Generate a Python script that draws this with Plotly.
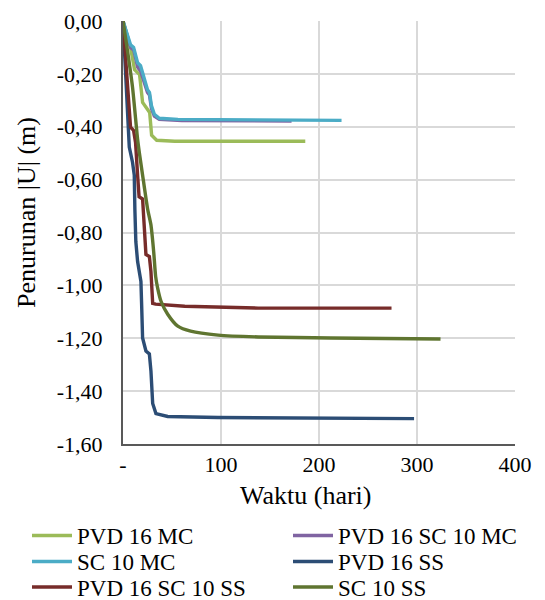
import plotly.graph_objects as go

# ---- data (days, settlement in m) ----
names = ["PVD 16 MC", "PVD 16 SC 10 MC", "SC 10 MC", "PVD 16 SS", "PVD 16 SC 10 SS", "SC 10 SS"]
colors = ["#9BBB59", "#8064A2", "#4BACC6", "#2C4D75", "#772C2A", "#5F7530"]

pvd16_mc_x = [0, 7.7, 11.8, 16.9, 20, 25.1, 27.2, 29.2, 34.4, 52.8, 186]
pvd16_mc_y = [0, -0.10, -0.184, -0.203, -0.308, -0.335, -0.346, -0.432, -0.451, -0.455, -0.455]

pvd16_sc10_mc_x = [0, 7.7, 11, 15, 18, 25, 27, 29, 32, 37, 60, 172]
pvd16_sc10_mc_y = [0, -0.10, -0.11, -0.175, -0.19, -0.27, -0.28, -0.33, -0.36, -0.372, -0.377, -0.378]

sc10_mc_x = [0, 7.7, 10.8, 14.9, 17.9, 25, 27, 29, 32, 37, 56, 223]
sc10_mc_y = [0, -0.09, -0.10, -0.158, -0.169, -0.26, -0.27, -0.32, -0.353, -0.368, -0.372, -0.376]

pvd16_ss_x = [0, 4.4, 6.4, 9.7, 11.5, 12.1, 13.1, 14.9, 16.6, 18.3, 19, 20, 23.4, 26.9, 28.5, 30.3, 33.6, 45.6, 97, 297]
pvd16_ss_y = [0, -0.308, -0.477, -0.534, -0.583, -0.711, -0.835, -0.91, -0.947, -0.985, -1.071, -1.199, -1.248, -1.259, -1.323, -1.447, -1.485, -1.496, -1.50, -1.504]

pvd16_sc10_ss_x = [0, 7.7, 10.8, 12.8, 14.9, 16.4, 20, 22, 23.4, 26.9, 28.5, 30.3, 33.3, 63, 138, 274]
pvd16_sc10_ss_y = [0, -0.402, -0.414, -0.459, -0.583, -0.665, -0.673, -0.778, -0.883, -0.891, -0.947, -1.068, -1.071, -1.079, -1.086, -1.086]

sc10_ss_x = [0, 4.9, 9.7, 14.9, 16.6, 20, 25.1, 28.5, 31.3, 33.3, 35.4, 38.8, 45.6, 55.9, 69, 97, 138, 212, 324]
sc10_ss_y = [0, -0.12, -0.25, -0.447, -0.496, -0.583, -0.711, -0.771, -0.872, -0.966, -1.011, -1.06, -1.109, -1.154, -1.173, -1.188, -1.195, -1.199, -1.203]

x_tickvals = [0, 100, 200, 300, 400]
x_ticktext = ["-", "100", "200", "300", "400"]
y_tickvals = [0, -0.2, -0.4, -0.6, -0.8, -1.0, -1.2, -1.4, -1.6]
y_ticktext = ["0,00", "-0,20", "-0,40", "-0,60", "-0,80", "-1,00", "-1,20", "-1,40", "-1,60"]

series = [
    (pvd16_mc_x, pvd16_mc_y),
    (pvd16_sc10_mc_x, pvd16_sc10_mc_y),
    (sc10_mc_x, sc10_mc_y),
    (pvd16_ss_x, pvd16_ss_y),
    (pvd16_sc10_ss_x, pvd16_sc10_ss_y),
    (sc10_ss_x, sc10_ss_y),
]

FONT = "Liberation Serif"
W, H = 545, 600

# legend layout: two columns, three rows (one legend box per entry)
col_x = [19, 280]
row_top = [506, 532, 557.5]

fig = go.Figure()
legends = {}
for i, ((xs, ys), name, c) in enumerate(zip(series, names, colors)):
    key = "legend" if i == 0 else f"legend{i + 1}"
    shape = "spline" if name == "SC 10 SS" else "linear"
    fig.add_trace(go.Scatter(x=xs, y=ys, mode="lines", name=name, legend=key,
                             line=dict(color=c, width=3.4, shape=shape, smoothing=0.6)))
    legends[key] = dict(orientation="v", xref="container", yref="container",
                        x=col_x[i % 2] / W, y=1 - row_top[i // 2] / H,
                        xanchor="left", yanchor="top", itemwidth=40,
                        font=dict(size=23, family=FONT, color="#000000"),
                        bgcolor="rgba(0,0,0,0)")

fig.update_layout(
    width=W, height=H,
    margin=dict(l=115, r=38, t=13, b=164, autoexpand=False),
    paper_bgcolor="white", plot_bgcolor="white",
    font=dict(family=FONT, size=22, color="#000000"),
    showlegend=True,
    xaxis=dict(range=[0, 400], tickvals=x_tickvals, ticktext=x_ticktext,
               showgrid=True, gridcolor="#D9D9D9", gridwidth=2,
               showline=True, linecolor="#595959", linewidth=2,
               zeroline=False, ticks="", ticklabeloverflow="allow",
               tickfont=dict(size=22, family=FONT)),
    yaxis=dict(range=[-1.6, 0], tickvals=y_tickvals, ticktext=y_ticktext,
               showgrid=True, gridcolor="#D9D9D9", gridwidth=2,
               showline=True, linecolor="#595959", linewidth=2,
               zeroline=False, ticks="", ticklabelstandoff=14,
               ticklabeloverflow="allow",
               tickfont=dict(size=22, family=FONT)),
    annotations=[
        dict(text="Waktu (hari)", xref="paper", yref="paper",
             x=(305 - 123) / 392, y=-(495 - 444) / 423, showarrow=False,
             xanchor="center", yanchor="middle", font=dict(size=26, family=FONT)),
        dict(text="Penurunan |U| (m)", xref="paper", yref="paper",
             x=(26 - 123) / 392, y=(444 - 213) / 423, showarrow=False,
             textangle=-90, xanchor="center", yanchor="middle",
             font=dict(size=26, family=FONT)),
    ],
    **legends,
)

fig.write_html("out.html")
